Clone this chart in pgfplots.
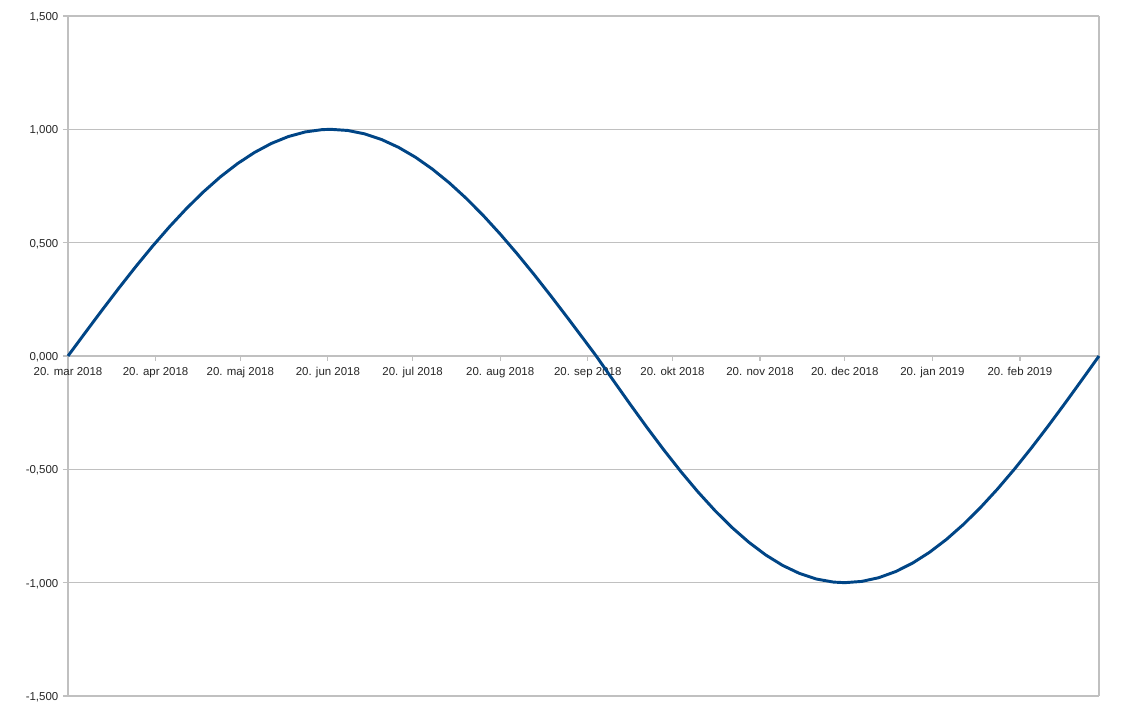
\documentclass[border=0pt]{standalone}
\usepackage{pgfplots}
\pgfplotsset{compat=1.18}
\usepackage{fontspec}
\setmainfont{Liberation Sans}
\definecolor{series}{HTML}{004586}
\definecolor{gridc}{HTML}{C0C0C0}
\begin{document}
\begin{tikzpicture}
\begin{axis}[
 scale only axis, width=773.25pt, height=510pt,
 xmin=0, xmax=365, ymin=-1.5, ymax=1.5,
 axis x line*=middle, axis y line*=box,
 axis line style={gridc, line width=0.9pt, -},
 ytick={-1.5,-1,-0.5,0,0.5,1,1.5}, ytick pos=left,
 xtick={0,31,61,92,122,153,184,214,245,275,306,337},
 xticklabels={20. mar 2018,20. apr 2018,20. maj 2018,20. jun 2018,20. jul 2018,20. aug 2018,20. sep 2018,20. okt 2018,20. nov 2018,20. dec 2018,20. jan 2019,20. feb 2019},
 tick align=outside, major tick length=3.75pt,
 tick style={gridc, line width=0.9pt},
 ymajorgrids, grid style={gridc, line width=0.9pt},
 hide obscured x ticks=false, hide obscured y ticks=false,
 typeset ticklabels with strut,
 tick label style={font=\fontsize{8.6}{10}\selectfont, text=black!85},
 yticklabel style={yshift=-1.3pt, /pgf/number format/fixed, /pgf/number format/zerofill, /pgf/number format/precision=3, /pgf/number format/use comma, /pgf/number format/assume math mode=true},
 xticklabel style={yshift=-0.5pt},
 clip=false,
]
\addplot[series, line width=2.2pt, line join=round] table {
x y
0 0
6 0.1012
12 0.2013
18 0.2993
24 0.3944
30 0.4853
36 0.5712
42 0.6514
48 0.7247
54 0.7909
60 0.8486
66 0.8978
72 0.9378
78 0.9681
84 0.9885
90 0.9987
93 1.0000
99 0.9950
105 0.9800
111 0.9551
117 0.9206
123 0.8770
129 0.8245
135 0.7637
141 0.6953
147 0.6200
153 0.5381
159 0.4510
165 0.3594
171 0.2642
177 0.1663
183 0.0668
187 0.0000
193 -0.1069
199 -0.2126
205 -0.3158
211 -0.4154
217 -0.5103
223 -0.5993
229 -0.6814
235 -0.7558
241 -0.8213
247 -0.8777
253 -0.9239
259 -0.9595
265 -0.9841
271 -0.9975
275 -1.0000
281 -0.9945
287 -0.9782
293 -0.9511
299 -0.9136
305 -0.8660
311 -0.8090
317 -0.7431
323 -0.6691
329 -0.5878
335 -0.5000
341 -0.4067
347 -0.3090
353 -0.2079
359 -0.1045
365 0.0000
};
\coordinate (bl) at (rel axis cs:0,0);
\coordinate (tr) at (rel axis cs:1,1);
\end{axis}
\path[use as bounding box] ([xshift=-51pt,yshift=-13.5pt]bl) rectangle ([xshift=30.75pt,yshift=12pt]tr);
\end{tikzpicture}
\end{document}
